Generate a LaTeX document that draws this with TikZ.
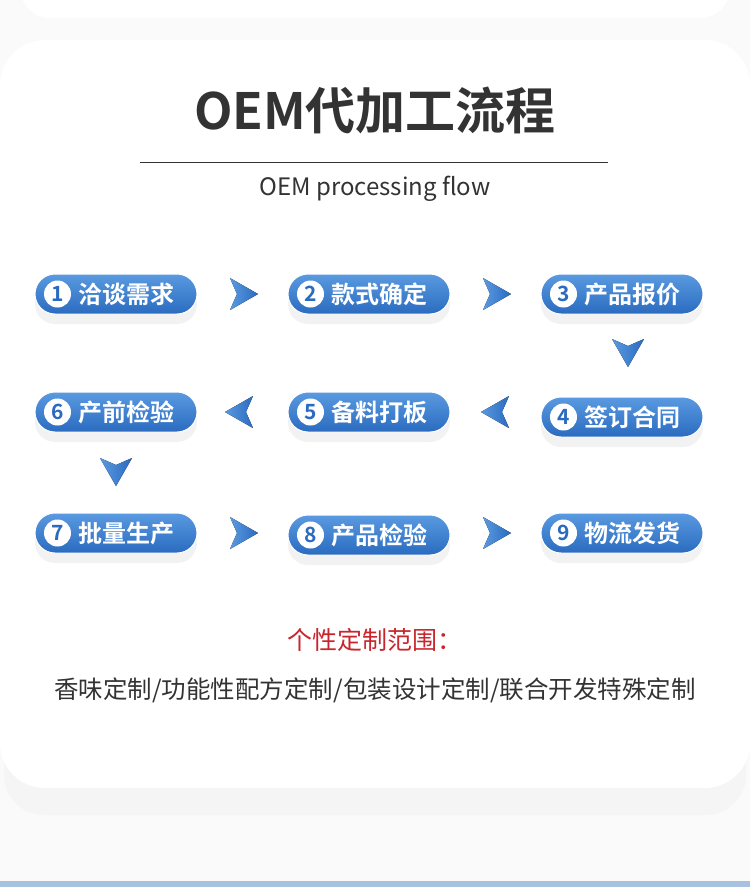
\documentclass[tikz,border=0pt]{standalone}
\usepackage{fontspec}
\setmainfont{Noto Sans CJK SC}[BoldFont={Noto Sans CJK SC Bold}]
\usetikzlibrary{positioning,shadows}
\definecolor{pillblue}{HTML}{2A6BC0}
\definecolor{pilltop}{HTML}{5A9AE0}
\definecolor{titlegray}{HTML}{333333}
\definecolor{redtext}{HTML}{C8262C}
\definecolor{stripblue}{HTML}{A7C2DF}
\tikzset{
  pill/.style={rounded corners=20pt, minimum width=162pt, minimum height=40pt,
    top color=pilltop, bottom color=pillblue, draw=white, line width=1pt,
    drop shadow={shadow xshift=0pt, shadow yshift=-10pt, opacity=0.05, fill=black}},
  num/.style={circle, fill=white, minimum size=27pt, inner sep=0pt, text=pillblue,
    font=\fontsize{21}{21}\selectfont\bfseries},
  steptext/.style={text=white, font=\fontsize{24}{24}\selectfont\bfseries},
  pics/chev/.style={code={
    \fill[left color=pilltop, right color=pillblue] (-13,-16) -- (15,0) -- (-13,16) -- (-6,0) -- cycle;}}
}
\newcommand{\stepnode}[4]{%
  \node[pill] (#1) at (#2) {};
  \node[num] (#1n) at ([xshift=23pt]#1.west) {#3};
  \node[steptext, right=4pt of #1n] (#1t) {#4};}
\begin{document}
\begin{tikzpicture}[x=1pt, y=-1pt]
  \useasboundingbox (0,0) rectangle (750,887);
  \fill[white!98!black] (0,0) rectangle (750,887);
  % card
  \fill[white!95!black, opacity=0.6, rounded corners=40pt] (4,60) rectangle (746,815);
  \fill[white, rounded corners=45pt] (0,40) rectangle (750,788);
  \fill[white, rounded corners=30pt] (20,-40) rectangle (730,18);
  \fill[stripblue] (0,881) rectangle (750,887);
  % heading
  \node[font=\fontsize{50}{50}\selectfont\bfseries, text=titlegray] (title) at (375,110) {OEM代加工流程};
  \draw[titlegray, line width=0.8pt] (140,162) -- (608,162);
  \node[font=\fontsize{24}{24}\selectfont, text=titlegray] (sub) at (375,189) {OEM processing flow};
  % steps
  \stepnode{s1}{116,294}{1}{洽谈需求}
  \stepnode{s2}{369,294}{2}{款式确定}
  \stepnode{s3}{622,294}{3}{产品报价}
  \stepnode{s4}{622,417}{4}{签订合同}
  \stepnode{s5}{369,412}{5}{备料打板}
  \stepnode{s6}{116,412}{6}{产前检验}
  \stepnode{s7}{116,533}{7}{批量生产}
  \stepnode{s8}{369,535}{8}{产品检验}
  \stepnode{s9}{622,533}{9}{物流发货}
  % arrows
  \pic at (243,294) {chev};
  \pic at (496,294) {chev};
  \pic[rotate=-90] at (628,352) {chev};
  \pic[rotate=180] at (496,412) {chev};
  \pic[rotate=180] at (240,412) {chev};
  \pic[rotate=-90] at (116,471) {chev};
  \pic at (243,533) {chev};
  \pic at (496,533) {chev};
  % footer text
  \node[font=\fontsize{25}{25}\selectfont, text=redtext] (scope) at (375,640) {个性定制范围：};
  \node[font=\fontsize{24.5}{25}\selectfont, text=titlegray] (range) at (375,690) {香味定制/功能性配方定制/包装设计定制/联合开发特殊定制};
\end{tikzpicture}
\end{document}
